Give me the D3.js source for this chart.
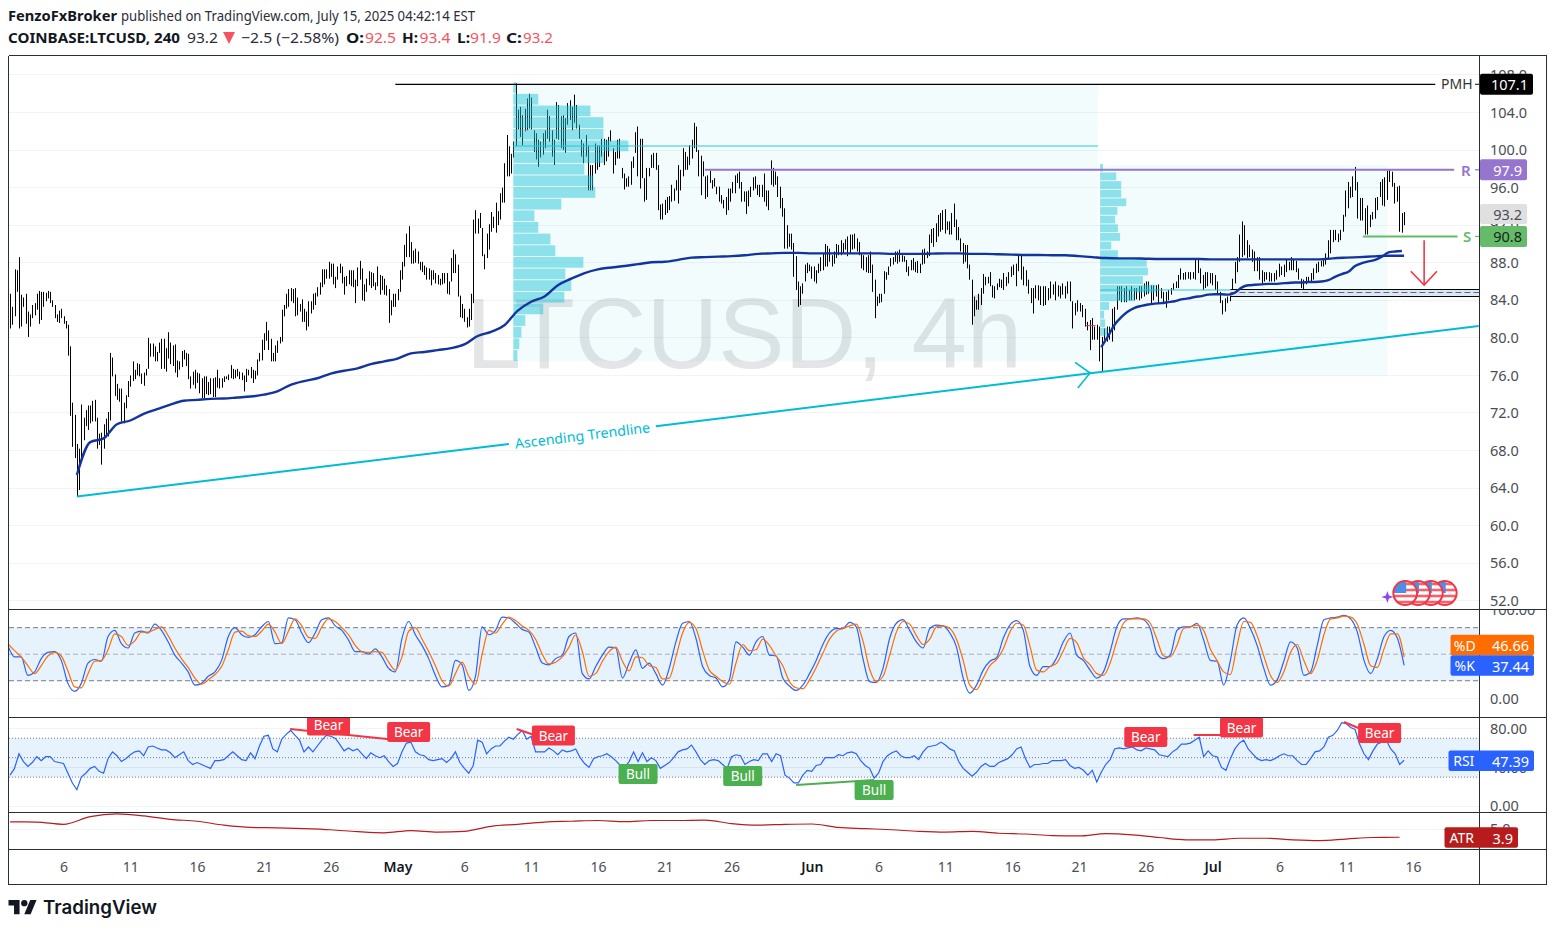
<!DOCTYPE html>
<html><head><meta charset="utf-8">
<script src="https://cdn.jsdelivr.net/npm/d3@7/dist/d3.min.js"></script>
<style>html,body{margin:0;padding:0;background:#fff}svg{display:block}text{font-family:"Noto Sans","Open Sans",sans-serif}</style>
</head><body><svg id="c" width="1555" height="931"></svg>
<script>
// ---------- price bars [high, low], three stretches ----------
const barsApr=[[84.7,81.0],[83.3,81.4],[87.3,82.3],[87.2,84.9],[88.6,81.0],[84.6,81.2],[84.3,83.3],[84.7,81.5],[82.8,80.1],[82.5,81.2],[83.5,82.1],[83.7,82.4],[84.7,83.0],[85.0,81.5],[84.9,81.9],[84.9,83.3],[84.8,83.9],[85.0,84.2],[84.9,83.7],[84.0,83.3],[83.5,82.1],[82.5,81.7],[82.9,81.6],[83.1,82.1],[82.3,81.5],[81.8,81.0],[81.4,78.1],[79.1,71.7],[73.1,68.4],[71.8,67.2],[68.7,63.1],[68.2,63.8],[72.9,66.7],[71.5,69.1],[72.3,70.6],[72.8,70.2],[72.8,70.9],[73.3,71.1],[73.4,71.1],[71.5,68.2],[69.8,68.6],[69.9,66.5],[70.8,68.2],[71.4,69.4],[72.1,69.5],[78.4,71.2],[77.9,75.9],[76.1,73.8],[75.1,73.4],[74.6,73.2],[74.6,71.1],[73.1,70.9],[73.9,72.5],[75.4,73.7],[76.0,74.8],[77.5,75.4],[76.6,75.6],[77.3,76.0],[77.2,75.9],[76.2,75.1],[76.3,74.9],[76.7,76.0],[80.0,76.7],[79.4,78.0],[79.4,78.0],[79.1,77.5],[78.5,77.5],[79.5,78.4],[79.9,76.7],[79.9,76.7],[78.9,76.4],[80.6,77.8],[79.5,77.2],[79.2,77.0],[79.3,76.3],[77.6,75.8],[77.5,76.6],[78.6,76.9],[78.7,77.7],[78.4,77.0],[78.3,75.6],[75.9,74.6],[76.4,75.0],[76.6,74.6],[76.3,75.2],[76.2,74.1],[75.7,73.6],[75.9,73.6],[75.9,74.0],[75.3,73.9],[75.7,74.0],[75.7,73.7],[75.8,73.7],[76.6,74.7],[75.7,74.6],[75.7,74.7],[75.9,75.3],[75.9,75.6],[76.1,75.5],[77.1,75.7],[76.7,75.6],[76.6,75.7],[76.7,75.9],[76.4,75.6],[76.3,75.5],[76.0,74.3],[76.7,75.3],[76.6,76.0],[76.9,75.7],[76.6,75.2],[76.5,75.6],[77.7,76.0],[78.4,77.5],[79.8,77.6],[80.5,78.7],[81.7,79.7],[80.8,78.7],[79.9,77.5],[78.4,77.5],[79.2,77.5],[79.7,78.4],[80.1,79.4],[83.0,79.6],[83.5,82.3],[84.7,83.1],[85.2,83.3],[85.3,83.9],[85.2,83.7],[85.3,82.3],[84.3,82.4],[83.6,82.8],[84.1,81.7],[83.1,81.7],[82.8,80.8],[83.9,81.2],[83.9,82.6],[84.7,83.0],[84.8,83.5],[85.4,84.4],[85.9,84.6],[87.3,85.4],[87.3,85.7],[87.3,86.3],[88.1,86.3],[87.9,86.5],[87.9,85.7],[86.5,85.3],[87.6,86.2],[87.9,86.9],[87.6,85.8],[86.5,84.6],[86.6,85.5],[87.2,85.7],[87.2,85.5],[87.2,85.4],[86.2,83.7],[87.5,85.5],[88.2,86.2],[87.4,84.0],[85.7,83.9],[86.3,84.9],[87.1,85.6],[87.0,85.3],[86.9,85.5],[85.9,85.1],[87.6,85.5],[86.7,84.6],[86.6,85.1],[86.3,84.6],[85.6,84.5],[85.2,81.6],[84.0,82.4],[84.7,83.3],[84.7,83.3],[85.2,84.0],[87.2,84.9],[88.1,86.2],[89.9,87.6],[91.1,88.6],[91.9,88.6],[90.2,87.9],[89.3,87.9],[89.5,88.0],[89.2,87.9],[88.1,87.2],[88.1,87.0],[87.7,86.7],[87.5,86.2],[87.4,86.2],[87.2,85.6],[87.2,86.2],[86.9,85.8],[86.7,85.7],[86.3,85.6],[86.9,85.7],[86.9,85.8],[86.9,84.7],[86.0,84.6],[88.5,86.0],[89.4,86.9],[88.9,86.9],[87.8,84.4],[84.5,82.2],[83.6,82.1],[83.1,81.7],[82.2,81.1],[83.1,81.2],[84.7,81.9],[92.6,83.7],[93.6,91.1],[92.7,91.1],[93.3,91.7],[91.7,88.7],[88.9,87.3],[91.1,88.5],[92.1,89.4],[93.4,91.3],[92.9,91.7],[94.4,91.2],[93.5,92.0],[95.4,92.6],[96.0,94.4],[98.6,94.4],[101.6,97.2],[100.4,97.2],[99.6,97.5],[100.9,99.2],[107.1,100.4],[104.3,102.2]];
const barsMay=[[104.6,101.4],[103.7,100.5],[104.4,102.0],[105.5,102.1],[106.0,102.3],[105.6,102.2],[102.1,99.8],[101.8,99.0],[101.1,98.2],[100.9,99.2],[101.8,99.5],[102.1,100.2],[104.3,101.2],[103.6,100.9],[102.1,99.3],[101.1,98.4],[105.1,101.2],[104.8,101.1],[103.6,100.2],[103.7,100.0],[103.4,99.7],[105.0,102.7],[105.3,103.2],[104.6,102.1],[105.9,102.9],[104.8,102.3],[102.7,101.2],[101.1,99.3],[100.7,98.6],[101.6,99.3],[100.5,95.7],[98.4,95.7],[98.4,95.7],[100.7,97.5],[100.5,97.9],[100.5,98.2],[101.2,99.3],[101.2,98.4],[101.1,98.8],[101.4,99.3],[102.1,100.9],[100.2,97.5],[99.8,98.4],[101.1,99.1],[101.2,99.1],[98.1,97.0],[97.5,95.8],[97.0,96.1],[97.2,96.1],[98.8,96.3],[99.3,98.1],[101.9,99.7],[102.5,97.2],[101.2,95.9],[101.2,97.0],[97.0,94.5],[98.1,94.7],[98.1,97.2],[99.5,98.1],[99.7,98.1],[99.7,97.9],[98.4,93.6],[94.2,92.6],[94.3,92.6],[94.7,93.1],[95.0,93.3],[95.1,93.6],[96.3,94.5],[95.9,94.6],[96.8,95.7],[98.4,94.3],[97.9,95.7],[100.2,97.2],[99.8,97.9],[99.3,97.9],[100.5,98.4],[101.1,99.1],[102.9,100.2],[102.5,99.8],[100.0,97.2],[99.4,95.2],[98.8,97.2],[97.2,94.8],[97.3,95.0],[97.8,96.5],[96.8,95.9],[97.0,96.1],[96.1,95.3],[96.1,94.5],[95.2,94.3],[94.7,93.8],[95.0,93.1],[95.9,93.6],[95.9,94.5],[96.6,95.4],[97.3,95.4],[97.5,96.5],[97.7,95.9],[96.6,94.5],[95.6,94.5],[95.6,93.2],[95.7,94.0],[96.1,95.0],[97.1,95.7],[97.2,95.9],[96.3,95.2],[96.3,95.0],[96.3,95.0],[97.5,94.5],[95.7,94.0],[95.7,93.6],[98.9,96.3],[98.1,96.1],[97.7,96.3],[97.2,95.0],[96.1,93.8],[94.9,92.9],[93.8,89.5],[92.0,89.5],[91.1,89.7],[91.1,89.4],[90.1,86.5],[88.7,85.1],[86.0,83.3],[85.5,83.5],[85.8,84.7],[87.8,86.0],[88.0,86.9],[87.8,87.1],[87.6,86.3],[87.6,86.0],[87.2,85.8],[87.9,86.9],[88.6,87.1],[89.0,87.2],[90.0,87.6],[89.8,87.6],[89.5,88.1],[88.8,87.6],[89.2,87.9],[90.0,88.5],[89.9,88.8],[90.4,88.8],[90.1,89.0],[90.5,89.4],[90.8,88.7],[91.0,89.0],[91.0,89.4],[91.1,89.5],[90.6,89.2],[90.2,88.8],[89.0,87.4],[88.8,87.2],[88.6,87.0],[88.8,86.9],[89.2,86.9],[87.8,84.9],[86.2,82.1],[84.4,83.4],[84.7,83.7],[84.7,83.8],[87.1,84.7],[87.0,86.2],[87.6,86.7],[88.5,87.6],[88.6,87.8],[89.2,88.1],[89.2,87.9],[89.4,88.1],[88.8,88.1],[88.7,88.1],[88.3,87.0],[87.6,86.6],[88.3,87.2],[88.5,87.2],[88.1,87.0],[88.2,86.9],[87.9,86.9],[89.4,87.8],[89.5,87.9],[89.2,88.5],[91.0,88.7],[91.6,90.1],[91.7,89.7],[92.2,90.2],[93.1,90.8],[93.3,91.3],[93.6,91.5],[93.7,91.1],[92.4,91.5],[92.4,91.0],[93.3,91.0],[94.3,91.8],[92.6,90.4],[91.8,90.4],[90.6,89.2],[90.1,87.9],[89.9,88.1],[89.9,87.4],[87.8,86.2],[86.2,81.4],[84.4,82.3],[84.0,83.0],[84.7,83.0],[85.3,83.5],[86.8,84.7],[86.5,85.6],[86.5,85.8],[87.0,85.5],[85.6,84.3],[85.5,84.2],[85.8,85.1],[86.3,85.4]];
const barsJun=[[86.2,85.3],[86.9,85.1],[86.5,85.5],[87.0,85.8],[87.6,86.5],[87.8,86.7],[87.9,85.5],[88.9,87.1],[88.9,86.2],[87.6,85.6],[87.2,85.5],[86.2,84.7],[85.3,83.7],[85.3,82.6],[85.6,84.2],[85.6,84.0],[85.5,83.5],[85.5,83.4],[85.5,83.5],[85.3,84.0],[86.0,84.2],[85.7,84.6],[86.0,84.0],[85.6,84.4],[85.5,84.2],[85.8,84.6],[85.5,84.2],[86.0,84.7],[86.0,83.9],[83.9,81.0],[83.7,82.4],[84.0,82.8],[83.7,82.8],[83.5,82.2],[83.1,81.2],[81.7,80.8],[81.9,78.7],[82.1,79.8],[81.2,79.8],[81.4,79.8],[81.2,77.5],[80.1,76.4],[81.0,79.8],[81.2,79.6],[81.2,79.8],[83.1,79.6],[83.3,80.8],[85.5,83.0],[85.5,84.0],[85.5,83.8],[85.3,83.8],[85.5,83.8],[85.1,84.0],[85.5,84.0],[85.3,84.0],[85.3,84.1],[85.5,84.0],[85.5,84.2],[85.8,84.4],[86.0,84.6],[86.0,84.7],[85.6,83.7],[85.6,84.0],[85.6,84.4],[85.7,83.7],[85.3,84.2],[84.9,83.7],[84.9,83.2],[85.1,84.0],[85.3,84.6],[85.8,85.1],[86.0,85.3],[86.7,85.3],[87.4,86.2],[86.9,86.2],[87.0,86.2],[87.0,86.3],[87.0,86.2],[87.0,86.3],[88.3,86.2],[88.3,86.9],[87.4,85.8],[86.7,85.1],[87.0,85.3],[87.0,85.5],[86.9,85.8],[86.9,85.6],[86.7,85.1],[86.0,84.7],[84.9,83.7],[84.0,82.5],[84.2,82.8],[84.4,83.7],[84.6,83.9],[86.3,84.6],[88.1,85.8],[88.6,87.0],[91.0,88.1],[92.4,88.6],[92.0,88.8],[90.4,88.5],[89.9,88.6],[89.4,88.1],[89.2,87.1],[88.6,87.1],[88.6,86.2],[87.2,85.8],[87.0,86.0],[87.0,86.2],[87.0,86.0],[86.9,86.0],[86.9,86.0],[87.2,86.2],[87.9,86.5],[87.6,86.7],[87.8,86.5],[88.4,87.0],[88.1,87.2],[88.6,87.2],[88.3,87.2],[88.2,87.0],[87.4,86.2],[86.3,85.3],[86.2,85.2],[86.5,85.7],[86.5,86.0],[86.9,86.0],[87.4,86.2],[87.9,86.9],[88.1,87.0],[88.2,87.6],[88.3,87.6],[89.0,87.8],[90.4,88.5],[91.5,89.0],[91.5,90.2],[91.5,90.4],[91.1,90.2],[91.5,90.4],[93.1,91.3],[95.7,92.9],[96.6,93.8],[96.1,94.9],[97.2,95.0],[98.2,95.7],[96.6,92.7],[94.9,92.5],[94.9,92.5],[93.8,91.0],[94.1,91.0],[93.1,91.8],[93.4,92.6],[94.9,92.7],[95.0,93.6],[96.6,95.0],[96.9,94.1],[97.1,94.0],[97.8,94.7],[97.9,96.6],[97.7,96.1],[96.5,94.3],[96.1,94.5],[96.2,91.3],[93.3,91.2],[93.4,92.0]];
const barSpans=[["2025-04-02T00:00Z","2025-05-10T00:00Z"],["2025-05-10T04:00Z","2025-06-15T00:00Z"],["2025-06-15T04:00Z","2025-07-15T08:00Z"]];

// ---------- anchored VWAP curves ----------
const vwapLongStart="2025-04-07T00:00Z";   // daily values, the last one at the last bar
const vwapLong=[65.4,68.9,69.3,70.8,71.2,71.9,72.4,72.9,73.3,73.4,73.5,73.55,73.65,73.75,73.95,74.3,75.0,75.4,75.7,76.2,76.5,76.75,77.2,77.5,77.8,78.35,78.5,78.7,78.9,79.3,80.2,80.65,81.35,82.9,83.85,84.4,85.6,86.3,86.9,87.3,87.5,87.65,87.85,88.05,88.1,88.3,88.55,88.6,88.65,88.7,88.8,88.95,89.0,89.05,89.05,89.0,89.0,89.0,89.0,89.0,89.0,88.95,88.95,88.95,88.97,89.0,89.0,88.95,88.95,88.9,88.86,88.82,88.82,88.8,88.8,88.7,88.6,88.5,88.47,88.47,88.43,88.4,88.4,88.4,88.4,88.36,88.36,88.36,88.36,88.36,88.36,88.36,88.36,88.36,88.47,88.54,88.6,88.68,88.75,88.75,88.75];
const vwapJunStart="2025-06-22T16:00Z";    // 12-hour values
const vwapJun=[79.0,80.15,81.4,82.2,82.8,83.2,83.4,83.55,83.65,83.7,83.8,83.9,84.1,84.2,84.35,84.45,84.6,84.65,84.65,84.6,84.8,85.35,85.6,85.65,85.7,85.75,85.75,85.8,85.85,85.9,85.9,85.95,85.95,86.0,86.15,86.5,86.8,87.05,87.65,87.95,88.15,88.3,88.65,89.1,89.2,89.25];

// ---------- volume profiles ----------
const profileATop=107.25, profileABin=1.24;
const profileA=[2.6,21.7,67,78.3,78.3,100,79,61.7,69.6,71.3,41.7,18.3,21.7,32.2,36.5,60.9,45.2,50.4,44.3,26,10.4,7,5.2,3.5];
const profileBTop=98.56, profileBBin=0.92;
const profileB=[5,29,38,38,47,31,27,32,36,20,32,84,86,77,100,62,16,7,9,13];

// ---------- oscillators ----------
const stochK=[60,47,47,26,30,45,52,53,43,17,8,17,40,44,42,70,77,62,57,74,76,74,84,77,64,49,40,30,15,17,25,30,43,70,80,72,69,72,81,87,62,63,91,89,74,63,74,89,91,82,77,66,53,53,50,56,47,34,30,68,87,72,60,45,26,13,15,43,38,9,25,81,72,77,92,91,85,78,75,58,40,38,45,49,70,74,28,22,36,49,58,57,23,40,55,34,40,28,15,34,64,85,87,68,36,26,23,13,21,64,58,49,64,70,49,48,23,14,9,15,28,43,61,74,79,79,86,81,45,19,18,34,68,85,89,77,64,57,79,83,82,74,58,23,6,15,32,42,46,68,83,88,77,36,26,36,36,46,64,74,49,43,32,23,30,53,81,90,90,91,89,79,51,45,49,77,81,81,85,66,43,42,15,43,83,91,79,60,34,15,21,42,64,57,26,30,60,89,91,92,94,90,75,43,28,45,70,77,68,37.44];
const stochD=[62,54,47,37,28,37,48,52,48,31,13,12,28,42,43,55,73,70,60,65,75,75,78,81,71,57,45,35,23,16,21,27,36,55,75,76,71,70,76,84,75,62,76,90,82,69,68,81,90,87,80,72,60,53,52,53,52,41,32,47,76,80,67,53,37,20,14,28,41,25,16,50,77,74,84,92,88,82,77,67,50,39,41,47,58,72,53,25,28,42,53,58,42,31,47,46,37,35,22,23,47,74,86,79,54,32,25,19,16,40,61,54,55,67,60,48,37,19,12,11,21,35,51,67,76,79,82,84,65,33,19,25,49,75,87,84,71,61,67,81,82,79,67,43,15,10,23,37,44,56,75,85,83,59,32,30,36,40,54,68,63,46,38,28,26,40,65,85,90,90,90,85,67,48,47,60,79,81,83,77,56,43,30,27,60,87,86,71,48,26,18,30,52,61,43,28,43,72,90,91,93,92,84,61,37,35,56,73,73,46.66];
const rsi=[32,39,54,46,41,45,51,47,51,51,46,45,44,34,24,17,30,34,39,41,36,34,49,56,52,46,49,53,56,57,52,61,62,60,58,58,55,50,53,56,47,43,45,43,41,39,47,47,48,52,56,52,48,47,55,49,62,72,73,59,56,69,74,78,73,68,56,61,56,62,68,73,72,70,64,57,60,57,59,54,49,55,52,50,52,46,41,44,56,65,66,56,53,52,48,47,48,49,45,49,56,45,39,34,42,68,66,54,59,62,62,67,71,69,74,78,69,72,56,56,56,60,57,53,58,56,57,59,50,44,40,49,51,52,54,51,47,42,40,46,56,46,55,46,50,47,39,42,45,50,56,58,59,63,56,48,43,47,48,47,43,39,51,53,52,43,46,48,47,54,54,46,54,52,32,29,24,24,32,37,36,42,43,50,50,50,53,52,55,56,54,47,42,39,29,34,46,52,55,57,52,50,50,52,48,56,61,62,63,66,63,59,57,46,39,35,31,35,41,44,41,41,45,47,49,53,59,61,49,40,43,43,44,44,47,47,47,48,42,39,40,37,32,37,25,35,43,48,59,60,59,60,61,58,57,60,59,58,53,52,51,56,59,64,64,65,68,71,51,57,52,51,40,37,49,59,65,68,59,54,49,47,48,47,49,52,54,52,52,47,43,43,49,56,57,61,71,73,78,86,85,81,79,64,54,48,57,64,66,68,59,54,43,47.39];
const atr=[5.93,5.9,5.6,6.6,6.95,6.7,6.25,6.0,5.5,5.2,5.15,5.05,4.9,4.65,4.5,4.8,4.6,4.7,5.35,5.6,5.9,6.0,6.1,5.95,6.1,6.1,6.15,5.7,5.5,5.6,5.65,5.2,5.05,4.9,4.7,4.6,4.7,4.45,4.35,4.15,4.1,4.4,4.25,3.9,3.6,3.6,3.8,3.8,3.6,3.5,3.7,3.9,3.93];

// ---------- tags and divergences on the RSI pane: when, RSI value ----------
const tagText=["Bear","Bear","Bear","Bull","Bull","Bull","Bear","Bear","Bear"];
const tagWhen=["2025-04-25T20:00Z","2025-05-01T20:00Z","2025-05-12T16:00Z","2025-05-19T00:00Z","2025-05-26T20:00Z","2025-06-05T16:00Z","2025-06-26T00:00Z","2025-07-03T04:00Z","2025-07-13T12:00Z"];
const tagRsi=[83.1,76.4,72.8,33.2,31.2,16.8,71.3,81,75.4];
const divKind=["Bear","Bear","Bull","Bear","Bear"];
const divFrom=[["2025-04-22T23:00Z",79.5],["2025-05-09T22:00Z",79.5],["2025-05-30T20:00Z",21.9],["2025-06-29T14:00Z",73.3],["2025-07-10T20:00Z",86.7]];
const divTo=[["2025-05-01T16:00Z",67.1],["2025-05-11T16:00Z",71.3],["2025-06-05T16:00Z",27],["2025-07-03T00:00Z",73.3],["2025-07-11T22:00Z",80.5]];

// ---------- axes ----------
const priceTicks=[108,104,100,96,92,88,84,80,76,72,68,64,60,56,52];
const timeTicks=["2025-04-06","2025-04-11","2025-04-16","2025-04-21","2025-04-26","2025-05-01","2025-05-06","2025-05-11","2025-05-16","2025-05-21","2025-05-26","2025-06-01","2025-06-06","2025-06-11","2025-06-16","2025-06-21","2025-06-26","2025-07-01","2025-07-06","2025-07-11","2025-07-16"];
const monthNames={"04":"Apr","05":"May","06":"Jun","07":"Jul"};

// ---------- drawn levels ----------
const pmh=107.1, pmhLine=107.0, levelR=97.9, levelS=90.8, lastClose=93.2, poolTop=85.2, poolBottom=84.45, poolMid=84.85, pocA=100.43, pocB=85.1;
const stochLevels=[80,50,20], rsiLevels=[70,50,30];
const stochGrid=[0], rsiGrid=[80,40,0], atrGrid=[5];

const D=s=>new Date(s);
const L=1479,ML=9;
const x=d3.scaleUtc([D("2025-04-06T00:00Z"),D("2025-07-16T00:00Z")],[63.5,1413]);
const y=d3.scaleLinear([52,104],[600.8,112.5]);
const yS=d3.scaleLinear([0,100],[698.4,610]);
const yR=d3.scaleLinear([0,80],[806.3,728.5]);
const yA=d3.scaleLinear([3.9,5],[837.5,829]);
const svg=d3.select("#c");
const defs=svg.append("defs");
const clip=(id,a,b,c=L)=>defs.append("clipPath").attr("id",id).append("rect").attr("x",ML).attr("y",a).attr("width",c-ML).attr("height",b-a);
clip("cM",56,609);clip("cS",610,717);clip("cR",718,812);clip("cA",813,849);
clip("aM",56,609,1546);clip("aS",610,717,1546);clip("aR",718,812,1546);clip("aA",813,849,1546);
const hour=36e5,day=24*hour;
const gM=svg.append("g").attr("clip-path","url(#cM)");
const GRID="#f2f3f6";
const hl=(g,ys,col)=>g.selectAll(null).data(ys).join("line").attr("x1",ML).attr("x2",L).attr("y1",d=>d).attr("y2",d=>d).attr("stroke",col).attr("stroke-width",1).attr("shape-rendering","crispEdges");
hl(gM,priceTicks.map(y),GRID);

// boxes behind the profiles
const PROFILE="rgba(38,198,218,.5)",BOX="rgba(0,188,212,.05)";
const box=(g,a,b,p1,p2,f)=>g.append("rect").attr("x",x(D(a))).attr("width",x(D(b))-x(D(a))).attr("y",y(p1)).attr("height",y(p2)-y(p1)).attr("fill",f);
box(gM,"2025-05-09T16:00Z","2025-06-22T10:00Z",107.05,77.5,BOX);
box(gM,"2025-06-22T14:00Z","2025-07-14T02:00Z",98.4,76.0,BOX);

// watermark
gM.append("text").attr("x",466).attr("y",368).attr("font-size",100).style("font-family","'Liberation Sans',Arial,sans-serif").attr("fill","rgba(120,123,134,.2)").attr("textLength",556).attr("lengthAdjust","spacingAndGlyphs").text("LTCUSD, 4h");

// price bars
const bars=[barsApr,barsMay,barsJun].flatMap((seg,s)=>{
  const t=d3.scaleLinear([0,seg.length-1],[+D(barSpans[s][0]),+D(barSpans[s][1])]);
  return seg.map((b,i)=>({t:new Date(t(i)),hi:b[0],lo:b[1]}));
});
gM.append("g").selectAll("line").data(bars).join("line")
  .attr("x1",d=>Math.round(x(d.t))+.5).attr("x2",d=>Math.round(x(d.t))+.5)
  .attr("y1",d=>y(d.hi)).attr("y2",d=>y(d.lo)).attr("stroke","#000").attr("stroke-width",1);

// profiles
const profile=(g,vals,top,bin,left,w)=>{
  const sx=d3.scaleLinear([0,100],[0,w]);
  g.append("g").selectAll("rect").data(vals).join("rect")
    .attr("x",x(D(left))).attr("width",d=>sx(d))
    .attr("y",(d,i)=>y(top-i*bin)+.3).attr("height",(d,i)=>y(top-(i+1)*bin)-y(top-i*bin)-.9).attr("fill",PROFILE);
};
profile(gM,profileA,profileATop,profileABin,"2025-05-09T16:00Z",115);
profile(gM,profileB,profileBTop,profileBBin,"2025-06-22T14:00Z",55.5);

const seg=(g,a,pa,b,pb,col,w)=>g.append("line").attr("x1",x(D(a))).attr("x2",x(D(b))).attr("y1",y(pa)).attr("y2",y(pb)).attr("stroke",col).attr("stroke-width",w);
seg(gM,"2025-05-09T16:00Z",pocA,"2025-06-22T10:00Z",pocA,PROFILE,2);
seg(gM,"2025-06-22T14:00Z",pocB,"2025-07-02T08:00Z",pocB,PROFILE,2);

// liquidity band
const xPool=x(D("2025-07-02T08:00Z"));
gM.append("rect").attr("x",xPool).attr("width",L-xPool).attr("y",y(poolTop)).attr("height",y(poolBottom)-y(poolTop)).attr("fill","#d0efe9");
[poolTop,poolBottom].forEach(p=>gM.append("line").attr("x1",xPool).attr("x2",L).attr("y1",Math.round(y(p))+.5).attr("y2",Math.round(y(p))+.5).attr("stroke","#000").attr("stroke-width",1));
gM.append("line").attr("x1",xPool).attr("x2",L).attr("y1",Math.round(y(poolMid))+.5).attr("y2",Math.round(y(poolMid))+.5).attr("stroke","#b030d8").attr("stroke-width",1).attr("stroke-dasharray","6 3");

// VWAPs
const BLUE="#12349c";
const vl=d3.line().x(d=>x(d.t)).y(d=>y(d.v)).curve(d3.curveMonotoneX);
const lastBar=D("2025-07-15T08:00Z");
gM.append("path").datum(vwapLong.map((v,i)=>({t:i==vwapLong.length-1?lastBar:new Date(+D(vwapLongStart)+i*day),v})))
  .attr("d",vl).attr("fill","none").attr("stroke",BLUE).attr("stroke-width",2.4);
gM.append("path").datum(vwapJun.map((v,i)=>({t:new Date(+D(vwapJunStart)+i*12*hour),v})))
  .attr("d",vl).attr("fill","none").attr("stroke",BLUE).attr("stroke-width",2.4);

// trendline with the label in a gap
const CY="#00bcd4";
const tStart=D("2025-04-07T00:00Z"),tEnd=D("2025-07-20T22:00Z"),gapA=D("2025-05-09T08:00Z"),gapB=D("2025-05-20T08:00Z");
const tr=d3.scaleUtc([tStart,tEnd],[63.1,81.26]);
[[tStart,gapA],[gapB,tEnd]].forEach(([a,b])=>gM.append("line").attr("x1",x(a)).attr("x2",x(b)).attr("y1",y(tr(a))).attr("y2",y(tr(b))).attr("stroke",CY).attr("stroke-width",2));
const tMid=new Date((+gapA+ +gapB)/2);
gM.append("text").attr("transform",`translate(${x(tMid)},${y(tr(tMid))}) rotate(-6.95)`).attr("text-anchor","middle").attr("dominant-baseline","central").attr("fill",CY).attr("font-size",14).attr("textLength",136).attr("lengthAdjust","spacingAndGlyphs").text("Ascending Trendline");
const chev=[["2025-06-20T17:00Z",77.4],["2025-06-21T20:00Z",76.26],["2025-06-20T22:00Z",74.66]];
const pl=d3.line().x(d=>x(D(d[0]))).y(d=>y(d[1]));
gM.append("path").attr("d",pl(chev)).attr("fill","none").attr("stroke",CY).attr("stroke-width",1.6);

// small red dash near the June low
seg(gM,"2025-06-21T12:00Z",81.3,"2025-06-22T06:00Z",81.3,"#f23645",1);

// PMH / R / S levels
seg(gM,"2025-04-30T20:00Z",pmhLine,"2025-07-17T16:00Z",pmhLine,"#000",1.2);
seg(gM,"2025-05-24T00:00Z",levelR,"2025-07-19T02:00Z",levelR,"#9575cd",2);
seg(gM,"2025-07-12T06:00Z",levelS,"2025-07-19T08:00Z",levelS,"#66bb6a",2);
const lab=(g,t,xx,yy,col,fs,fw)=>g.append("text").attr("x",xx).attr("y",yy).attr("fill",col).attr("font-size",fs).attr("font-weight",fw||400).attr("dominant-baseline","central").text(t);
lab(gM,"PMH",1441,y(pmhLine)-1,"#333",14);
lab(gM,"R",1461,y(levelR),"#9575cd",15,600);
lab(gM,"S",1463,y(levelS),"#66bb6a",15,600);
[[1475,pmhLine,"#333"],[1475,levelR,"#9575cd"],[1475,levelS,"#66bb6a"]].forEach(([a,p,c])=>gM.append("line").attr("x1",a).attr("x2",L).attr("y1",y(p)).attr("y2",y(p)).attr("stroke",c).attr("stroke-width",1.2));

// red arrow
const RED="#f23645";
seg(gM,"2025-07-16T20:00Z",90.4,"2025-07-16T20:00Z",85.63,RED,1.6);
gM.append("path").attr("d",pl([["2025-07-15T20:00Z",87.1],["2025-07-16T20:00Z",85.63],["2025-07-17T19:00Z",87.1]])).attr("fill","none").attr("stroke",RED).attr("stroke-width",1.6);

// flags
const flagX=["2025-07-15T10:00Z","2025-07-16T09:00Z","2025-07-17T08:00Z","2025-07-18T09:00Z"];
const flagPrice=52.83;
flagX.slice().reverse().forEach((w,k)=>{
  const cx=x(D(w)),cy=y(flagPrice),id="fl"+k,r=11.5;
  defs.append("clipPath").attr("id",id).append("circle").attr("cx",cx).attr("cy",cy).attr("r",r);
  const g=svg.append("g");
  g.append("circle").attr("cx",cx).attr("cy",cy).attr("r",r).attr("fill","#fff");
  const gg=g.append("g").attr("clip-path",`url(#${id})`);
  [-9,-3,3,9].forEach(o=>gg.append("rect").attr("x",cx-r).attr("width",2*r).attr("y",cy+o-1.3).attr("height",2.6).attr("fill","#f7616b"));
  gg.append("rect").attr("x",cx-r).attr("y",cy-r).attr("width",r+1).attr("height",r).attr("fill","#4a90e8");
  g.append("circle").attr("cx",cx).attr("cy",cy).attr("r",r+.4).attr("fill","none").attr("stroke","#f23645").attr("stroke-width",2);
});
svg.append("path").attr("transform",`translate(${x(D("2025-07-14T02:00Z"))},${y(flagPrice)+4})`).attr("d","M0-6 L1.5-1.5 L6 0 L1.5 1.5 L0 6 L-1.5 1.5 L-6 0 L-1.5-1.5Z").attr("fill","#8e44ef");

// stochastic
const gS=svg.append("g").attr("clip-path","url(#cS)");
hl(gS,stochGrid.map(yS),GRID);
gS.append("rect").attr("x",ML).attr("width",L-ML).attr("y",yS(80)).attr("height",yS(20)-yS(80)).attr("fill","#e6f3fd");
stochLevels.forEach(v=>gS.append("line").attr("x1",ML).attr("x2",L).attr("y1",yS(v)).attr("y2",yS(v)).attr("stroke",v==50?"#a9adb4":"#787b86").attr("stroke-width",1).attr("stroke-dasharray","5 3"));
const serT=(n,stepH)=>i=>new Date(+lastBar-(n-1-i)*stepH*hour);
const tk=serT(stochK.length,12);
const sl=d3.line().x((d,i)=>x(tk(i))).y(d=>yS(d)).curve(d3.curveMonotoneX);
gS.append("path").attr("d",sl(stochK)).attr("fill","none").attr("stroke","#2962ff").attr("stroke-width",1.2);
gS.append("path").attr("d",sl(stochD)).attr("fill","none").attr("stroke","#ff6d00").attr("stroke-width",1.2);

// RSI
const gR=svg.append("g").attr("clip-path","url(#cR)");
hl(gR,rsiGrid.map(yR),GRID);
gR.append("rect").attr("x",ML).attr("width",L-ML).attr("y",yR(70)).attr("height",yR(30)-yR(70)).attr("fill","#e6f3fd");
hl(gR,[yR(40)],"#d8e3ec");
rsiLevels.forEach(v=>gR.append("line").attr("x1",ML).attr("x2",L).attr("y1",yR(v)).attr("y2",yR(v)).attr("stroke","#787b86").attr("stroke-width",1).attr("stroke-dasharray","1 2"));
const tr8=serT(rsi.length,8);
gR.append("path").attr("d",d3.line().x((d,i)=>x(tr8(i))).y(d=>yR(d))(rsi)).attr("fill","none").attr("stroke","#2962ff").attr("stroke-width",1.2);
const TAGC={Bear:"#f23645",Bull:"#4caf50"};
divKind.forEach((k,i)=>gR.append("line").attr("x1",x(D(divFrom[i][0]))).attr("y1",yR(divFrom[i][1])).attr("x2",x(D(divTo[i][0]))).attr("y2",yR(divTo[i][1])).attr("stroke",TAGC[k]).attr("stroke-width",2));
tagText.forEach((t,i)=>{
  const cx=x(D(tagWhen[i])),cy=yR(tagRsi[i]),w=t=="Bear"?43:39;
  gR.append("rect").attr("x",cx-w/2).attr("y",cy-10).attr("width",w).attr("height",20).attr("rx",2).attr("fill",TAGC[t]);
  gR.append("text").attr("x",cx).attr("y",cy).attr("text-anchor","middle").attr("dominant-baseline","central").attr("fill","#fff").attr("font-size",13.5).text(t);
});

// ATR
const gA=svg.append("g").attr("clip-path","url(#cA)");
hl(gA,atrGrid.map(yA),GRID);
gA.append("path").attr("d",d3.line().x((d,i)=>x(new Date(+D("2025-04-02T00:00Z")+i*2*day))).y(d=>yA(d)).curve(d3.curveMonotoneX)(atr)).attr("fill","none").attr("stroke","#b71c1c").attr("stroke-width",1.2);

// right axes, each clipped to its own pane
const AX="#4a4d55";
const rightAxis=(scale,vals,fmt,cl)=>{
  const w=svg.append("g").attr("clip-path",`url(#${cl})`);
  const g=w.append("g").attr("transform",`translate(${L},0)`).call(d3.axisRight(scale).tickValues(vals).tickSize(0).tickPadding(11).tickFormat(fmt));
  g.select(".domain").remove();
  g.selectAll("text").attr("font-size",14.5).attr("fill",AX).style("font-family",'"Noto Sans",sans-serif');
  return g;
};
rightAxis(y,priceTicks,d3.format(".1f"),"aM");
rightAxis(yS,[100,0],d3.format(".2f"),"aS");
rightAxis(yR,[80,40,0],d3.format(".2f"),"aR");
rightAxis(yA,[5],d3.format(".1f"),"aA");

// price labels on the axis
const tag=(x0,x1,yc,h,col,txt,tcol,bold)=>{
  svg.append("rect").attr("x",x0).attr("width",x1-x0).attr("y",yc-h/2).attr("height",h).attr("rx",2).attr("fill",col);
  return svg.append("text").attr("x",x1-5).attr("y",yc).attr("text-anchor","end").attr("dominant-baseline","central").attr("fill",tcol).attr("font-size",14.5).attr("font-weight",bold||400).text(txt);
};
tag(1480,1533,y(pmhLine),21,"#000",d3.format(".1f")(pmh),"#fff");
tag(1480,1527,y(levelR),21,"#9575cd",d3.format(".1f")(levelR),"#fff");
tag(1480,1527,y(lastClose),20,"#e0e0e0",d3.format(".1f")(lastClose),"#4a4d55");
tag(1480,1527,y(levelS),21,"#66bb6a",d3.format(".1f")(levelS),"#12261a");
const tag2=(x0,xm,x1,yc,col,name,val)=>{
  svg.append("rect").attr("x",x0).attr("width",x1-x0).attr("y",yc-10.3).attr("height",20.6).attr("rx",2).attr("fill",col);
  svg.append("text").attr("x",(x0+xm)/2).attr("y",yc).attr("text-anchor","middle").attr("dominant-baseline","central").attr("fill","#fff").attr("font-size",14).text(name);
  svg.append("text").attr("x",x1-5).attr("y",yc).attr("text-anchor","end").attr("dominant-baseline","central").attr("fill","#fff").attr("font-size",14.5).text(val);
};

// pane frame
const lineC="#2a2e39";
const frame=svg.append("g").attr("stroke",lineC).attr("stroke-width",1).attr("shape-rendering","crispEdges");
[[8.5,55.5,1546.5,55.5],[8.5,609.5,1546.5,609.5],[8.5,717.5,1546.5,717.5],[8.5,812.5,1546.5,812.5],[8.5,849.5,1546.5,849.5],[8.5,884.5,1546.5,884.5],[8.5,55.5,8.5,884.5],[1479.5,55.5,1479.5,884.5],[1546.5,55.5,1546.5,884.5]].forEach(a=>frame.append("line").attr("x1",a[0]).attr("y1",a[1]).attr("x2",a[2]).attr("y2",a[3]));

tag2(1450.5,1479,1534,645,"#ff6d00","%D",d3.format(".2f")(stochD[stochD.length-1]));
tag2(1450.5,1479,1534,665.5,"#2962ff","%K",d3.format(".2f")(stochK[stochK.length-1]));
tag2(1448.5,1479,1534,760.7,"#2962ff","RSI",d3.format(".2f")(rsi[rsi.length-1]));
tag2(1444.5,1479,1518,837.5,"#b71c1c","ATR",d3.format(".1f")(atr[atr.length-1]));

// time axis
const gx=svg.append("g").attr("transform","translate(0,862)").call(d3.axisBottom(x).tickValues(timeTicks.map(s=>D(s+"T00:00Z"))).tickSize(0).tickPadding(0).tickFormat((d,i)=>{
  const s=timeTicks[i],dd=+s.slice(8);return dd==1?monthNames[s.slice(5,7)]:dd;
}));
gx.select(".domain").remove();
gx.selectAll("text").attr("font-size",14).attr("fill",AX).style("font-family",'"Noto Sans",sans-serif')
  .attr("font-weight",(d,i)=>+timeTicks[i].slice(8)==1?600:400).attr("fill",(d,i)=>+timeTicks[i].slice(8)==1?"#131722":AX);

// header
const head=(t,xx,yy,w,col,fw)=>svg.append("text").attr("x",xx).attr("y",yy).attr("fill",col).attr("font-size",14.5).attr("font-weight",fw||400).attr("textLength",w).attr("lengthAdjust","spacingAndGlyphs").text(t);
const DK="#131722",GY="#2a2e39",RD="#f7525f";
head("FenzoFxBroker",8,21,109,DK,700);
head("published on TradingView.com, July 15, 2025 04:42:14 EST",121,21,354,GY);
head("COINBASE:LTCUSD, 240",8,43,172,DK,700);
head("93.2",187,43,31,GY);
svg.append("path").attr("d","M223 32 H235 L229 44Z").attr("fill",RD);
head("−2.5 (−2.58%)",241,43,98,GY);
head("O:",346,43,18,DK,700);head("92.5",365,43,31,RD);
head("H:",402,43,16,DK,700);head("93.4",419.5,43,31,RD);
head("L:",457,43,13,DK,700);head("91.9",470,43,31,RD);
head("C:",506,43,16,DK,700);head("93.2",523,43,30,RD);

// logo
const lg=svg.append("g").attr("transform","translate(8.5,895.3) scale(.79)").attr("fill","#131722");
lg.append("path").attr("d","M14 24H7V13H0V6h14v18zM28 24h-8l7.5-18h8L28 24z");
lg.append("circle").attr("cx",20).attr("cy",10).attr("r",4);
svg.append("text").attr("x",43).attr("y",914).attr("font-size",18.5).attr("font-weight",600).style("font-family","Inter,Roboto,sans-serif").attr("fill","#131722").attr("textLength",114).attr("lengthAdjust","spacingAndGlyphs").text("TradingView");
</script></body></html>
